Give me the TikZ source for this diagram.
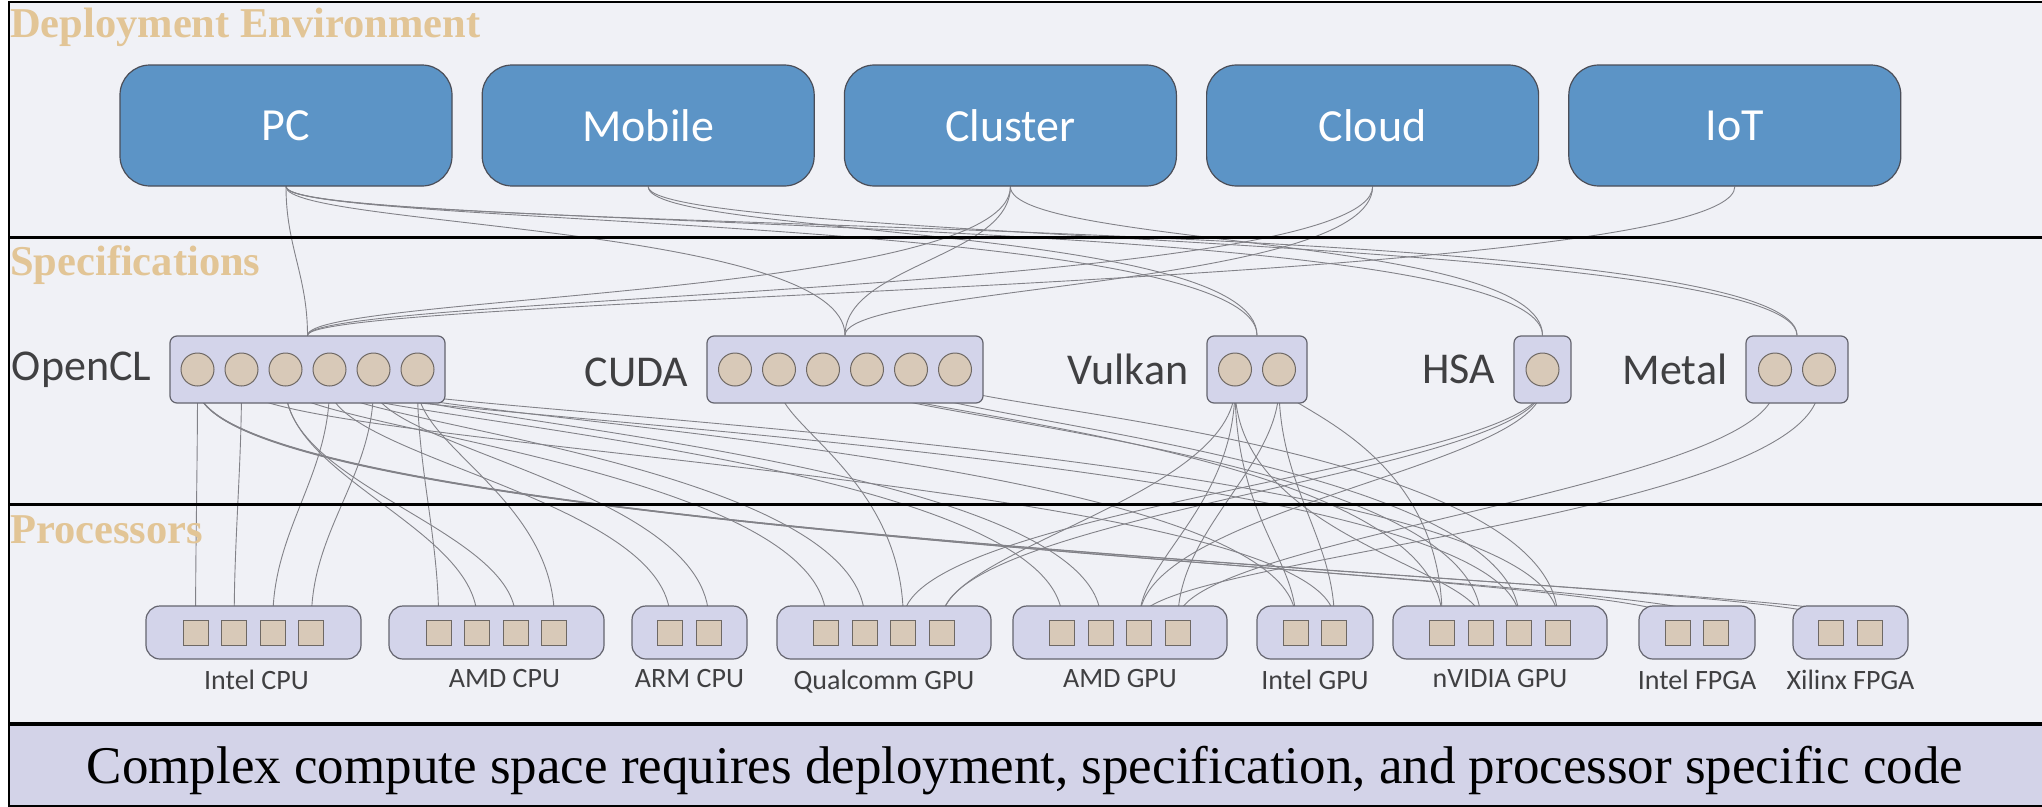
\documentclass[tikz,border=0pt]{standalone}
\usepackage{fontspec}
\setmainfont{Liberation Serif}
\newfontfamily\calibri{Carlito}
\usetikzlibrary{positioning}
\definecolor{bandbg}{RGB}{240,241,246}
\definecolor{capbg}{RGB}{211,211,232}
\definecolor{headc}{RGB}{226,197,150}
\definecolor{envc}{RGB}{92,148,198}
\definecolor{edgec}{RGB}{75,78,88}
\definecolor{boxc}{RGB}{211,212,234}
\definecolor{boxedge}{RGB}{100,100,110}
\definecolor{portc}{RGB}{216,201,184}
\definecolor{portedge}{RGB}{110,104,100}
\definecolor{textc}{RGB}{64,64,66}
\definecolor{wire}{RGB}{130,130,136}

% name, count, pitch, style
\newcommand{\slots}[4]{%
  \foreach \i in {1,...,#2}
    \node [#4] (#1\i) at ([xshift={#3*(\i-(#2+1)/2)}]#1.center) {};}

\begin{document}
\begin{tikzpicture} [
    x=1pt, y=1pt,
    heading/.style={
        font=\fontsize{42.5}{50}\selectfont\bfseries,
        text=headc, anchor=base west, inner sep=0pt
    },
    env/.style={
        font=\calibri\fontsize{46}{50}\selectfont, text=white,
        fill=envc, draw=edgec, line width=1.2pt, rounded corners=30pt,
        minimum width=332pt, minimum height=121pt
    },
    spec/.style={
        fill=boxc, draw=boxedge, line width=1.2pt,
        rounded corners=7pt, minimum height=67pt
    },
    port/.style={
        circle, fill=portc, draw=portedge, line width=1pt,
        minimum size=33pt, inner sep=0pt
    },
    lbl/.style={
        font=\calibri\fontsize{44}{48}\selectfont, text=textc,
        inner sep=0pt, left=18pt of #1
    },
    proc/.style={
        fill=boxc, draw=boxedge, line width=1.2pt,
        rounded corners=14pt, minimum height=53pt
    },
    core/.style={
        fill=portc, draw=portedge, line width=1pt,
        minimum size=25pt, inner sep=0pt
    },
    plabel/.style={
        font=\calibri\fontsize{28}{30}\selectfont, text=textc,
        inner sep=0pt, below=10pt of #1
    },
    w/.style 2 args={
        draw=wire, line width=0.9pt,
        to path={.. controls +(0,-#1) and +(0,#2) .. (\tikztotarget)}
    }
]

\pgfdeclarelayer{back}
\pgfdeclarelayer{background}
\pgfsetlayers{back,background,main}

\useasboundingbox (0,0) rectangle (2042,-806);

\begin{pgfonlayer}{back}
\fill [bandbg] (9,-2) rectangle (2046,-724);
\fill [capbg] (9,-724) rectangle (2046,-808);
\end{pgfonlayer}

\draw [line width=2.5pt] (9,-2) rectangle (2046,-806);
\draw [line width=3pt] (9,-237) -- (2046,-237);
\draw [line width=3pt] (9,-504) -- (2046,-504);
\draw [line width=3.5pt] (9,-724) -- (2046,-724);

\node [heading] (envhead)  at (10,-37)  {Deployment Environment};
\node [heading] (spechead) at (10,-275) {Specifications};
\node [heading] (prochead) at (10,-543) {Processors};

% deployment targets
\node [env] (pc) at (286,-125.5)     {PC};
\node [env,right=29pt of pc] (mobile) {Mobile};
\node [env,right=29pt of mobile] (cluster) {Cluster};
\node [env,right=29pt of cluster] (cloud) {Cloud};
\node [env,right=29pt of cloud] (iot) {IoT};

% specifications
\node [spec,minimum width=275pt] (opencl) at (307.5,-369.5) {};
\node [spec,minimum width=276pt] (cuda)   at (845,-369.5)   {};
\node [spec,minimum width=100pt] (vulkan) at (1257,-369.5)  {};
\node [spec,minimum width=57pt]  (hsa)    at (1542.5,-369.5) {};
\node [spec,minimum width=102pt] (metal)  at (1797,-369.5)  {};

\node [lbl=opencl] (opencltext) {OpenCL};
\node [lbl=cuda,yshift=-3pt] (cudatext) {CUDA};
\node [lbl=vulkan] (vulkantext) {Vulkan};
\node [lbl=hsa] (hsatext) {HSA};
\node [lbl=metal] (metaltext) {Metal};

\slots{opencl}{6}{44}{port}
\slots{cuda}{6}{44}{port}
\slots{vulkan}{2}{44}{port}
\slots{hsa}{1}{44}{port}
\slots{metal}{2}{44}{port}

% processors
\node [proc,minimum width=215pt] (icpu)  at (253.5,-632.5)  {};
\node [proc,minimum width=215pt] (acpu)  at (496.5,-632.5)  {};
\node [proc,minimum width=115pt] (arm)   at (689.5,-632.5)  {};
\node [proc,minimum width=214pt] (qgpu)  at (884,-632.5)    {};
\node [proc,minimum width=214pt] (agpu)  at (1120,-632.5)   {};
\node [proc,minimum width=116pt] (igpu)  at (1315,-632.5)   {};
\node [proc,minimum width=214pt] (ngpu)  at (1500,-632.5)   {};
\node [proc,minimum width=116pt] (ifpga) at (1697,-632.5)   {};
\node [proc,minimum width=115pt] (xfpga) at (1850.5,-632.5) {};

\slots{icpu}{4}{38.6}{core}
\slots{acpu}{4}{38.6}{core}
\slots{arm}{2}{38.6}{core}
\slots{qgpu}{4}{38.6}{core}
\slots{agpu}{4}{38.6}{core}
\slots{igpu}{2}{38.6}{core}
\slots{ngpu}{4}{38.6}{core}
\slots{ifpga}{2}{38.6}{core}
\slots{xfpga}{2}{38.6}{core}

\node [plabel=icpu,xshift=3pt] (icputext) {Intel CPU};
\node [plabel=acpu,xshift=8pt] (acputext) {AMD CPU};
\node [plabel=arm] (armtext) {ARM CPU};
\node [plabel=qgpu] (qgputext) {Qualcomm GPU};
\node [plabel=agpu] (agputext) {AMD GPU};
\node [plabel=igpu] (igputext) {Intel GPU};
\node [plabel=ngpu] (ngputext) {nVIDIA GPU};
\node [plabel=ifpga] (ifpgatext) {Intel FPGA};
\node [plabel=xfpga] (xfpgatext) {Xilinx FPGA};

\node [font=\fontsize{53}{60}\selectfont,anchor=base] (caption) at (1025,-783)
    {Complex compute space requires deployment, specification, and processor specific code};

\begin{pgfonlayer}{background}

% deployment -> specification
\path (pc.south) edge [w={60}{60}]   (opencl.north)
                 edge [w={40}{110}]  (cuda.north)
                 edge [w={40}{120}]  (vulkan.north)
                 edge [w={45}{125}]  (hsa.north)
                 edge [w={50}{125}]  (metal.north);
\path (mobile.south) edge [w={50}{110}]  (vulkan.north)
                     edge [w={55}{100}]  (metal.north);
\path (cluster.south) edge [w={110}{40}] (opencl.north)
                      edge [w={70}{70}]  (cuda.north)
                      edge [w={60}{100}] (hsa.north);
\path (cloud.south) edge [w={105}{40}] (opencl.north)
                    edge [w={100}{50}] (cuda.north);
\path (iot.south) edge [w={100}{40}] (opencl.north);

% specification -> processor
\path (opencl1.south) edge [w={80}{80}]  (icpu1.north)
                      edge [w={150}{50}] (ifpga1.north)
                      edge [w={150}{45}] (ifpga2.north)
                      edge [w={155}{40}] (xfpga1.north)
                      edge [w={155}{35}] (xfpga2.north);
\path (opencl2.south) edge [w={80}{80}]  (icpu2.north)
                      edge [w={60}{140}] (igpu2.north);
\path (opencl3.south) edge [w={90}{90}]  (acpu2.north)
                      edge [w={100}{90}] (acpu3.north)
                      edge [w={40}{150}] (qgpu1.north);
\path (opencl4.south) edge [w={90}{90}]  (icpu3.north)
                      edge [w={70}{120}] (arm1.north)
                      edge [w={35}{155}] (qgpu2.north)
                      edge [w={30}{160}] (agpu1.north)
                      edge [w={30}{165}] (ngpu3.north);
\path (opencl5.south) edge [w={90}{90}]  (icpu4.north)
                      edge [w={60}{130}] (arm2.north)
                      edge [w={30}{160}] (agpu2.north)
                      edge [w={30}{165}] (igpu1.north)
                      edge [w={25}{170}] (ngpu4.north);
\path (opencl6.south) edge [w={80}{80}]  (acpu1.north)
                      edge [w={60}{120}] (acpu4.north);
\path (cuda2.south) edge [w={40}{140}] (qgpu3.north);
\path (cuda4.south) edge [w={25}{170}] (ngpu1.north)
                    edge [w={30}{165}] (ngpu2.north);
\path (cuda5.south) edge [w={30}{160}] (ngpu3.north);
\path (cuda6.south) edge [w={20}{175}] (ngpu4.north);
\path (vulkan1.south) edge [w={120}{60}] (agpu3.north)
                      edge [w={130}{60}] (igpu1.north)
                      edge [w={150}{50}] (ngpu2.north)
                      edge [w={110}{70}] (qgpu4.north);
\path (vulkan2.south) edge [w={80}{90}]  (agpu4.north)
                      edge [w={100}{80}] (igpu2.north)
                      edge [w={20}{175}] (ngpu1.north);
\path (hsa1.south) edge [w={80}{110}] (qgpu3.north)
                   edge [w={85}{105}] (qgpu4.north)
                   edge [w={80}{110}] (agpu3.north);
\path (metal1.south) edge [w={100}{80}] (agpu4.north);
\path (metal2.south) edge [w={130}{60}] (agpu3.north);

\end{pgfonlayer}

\end{tikzpicture}
\end{document}
